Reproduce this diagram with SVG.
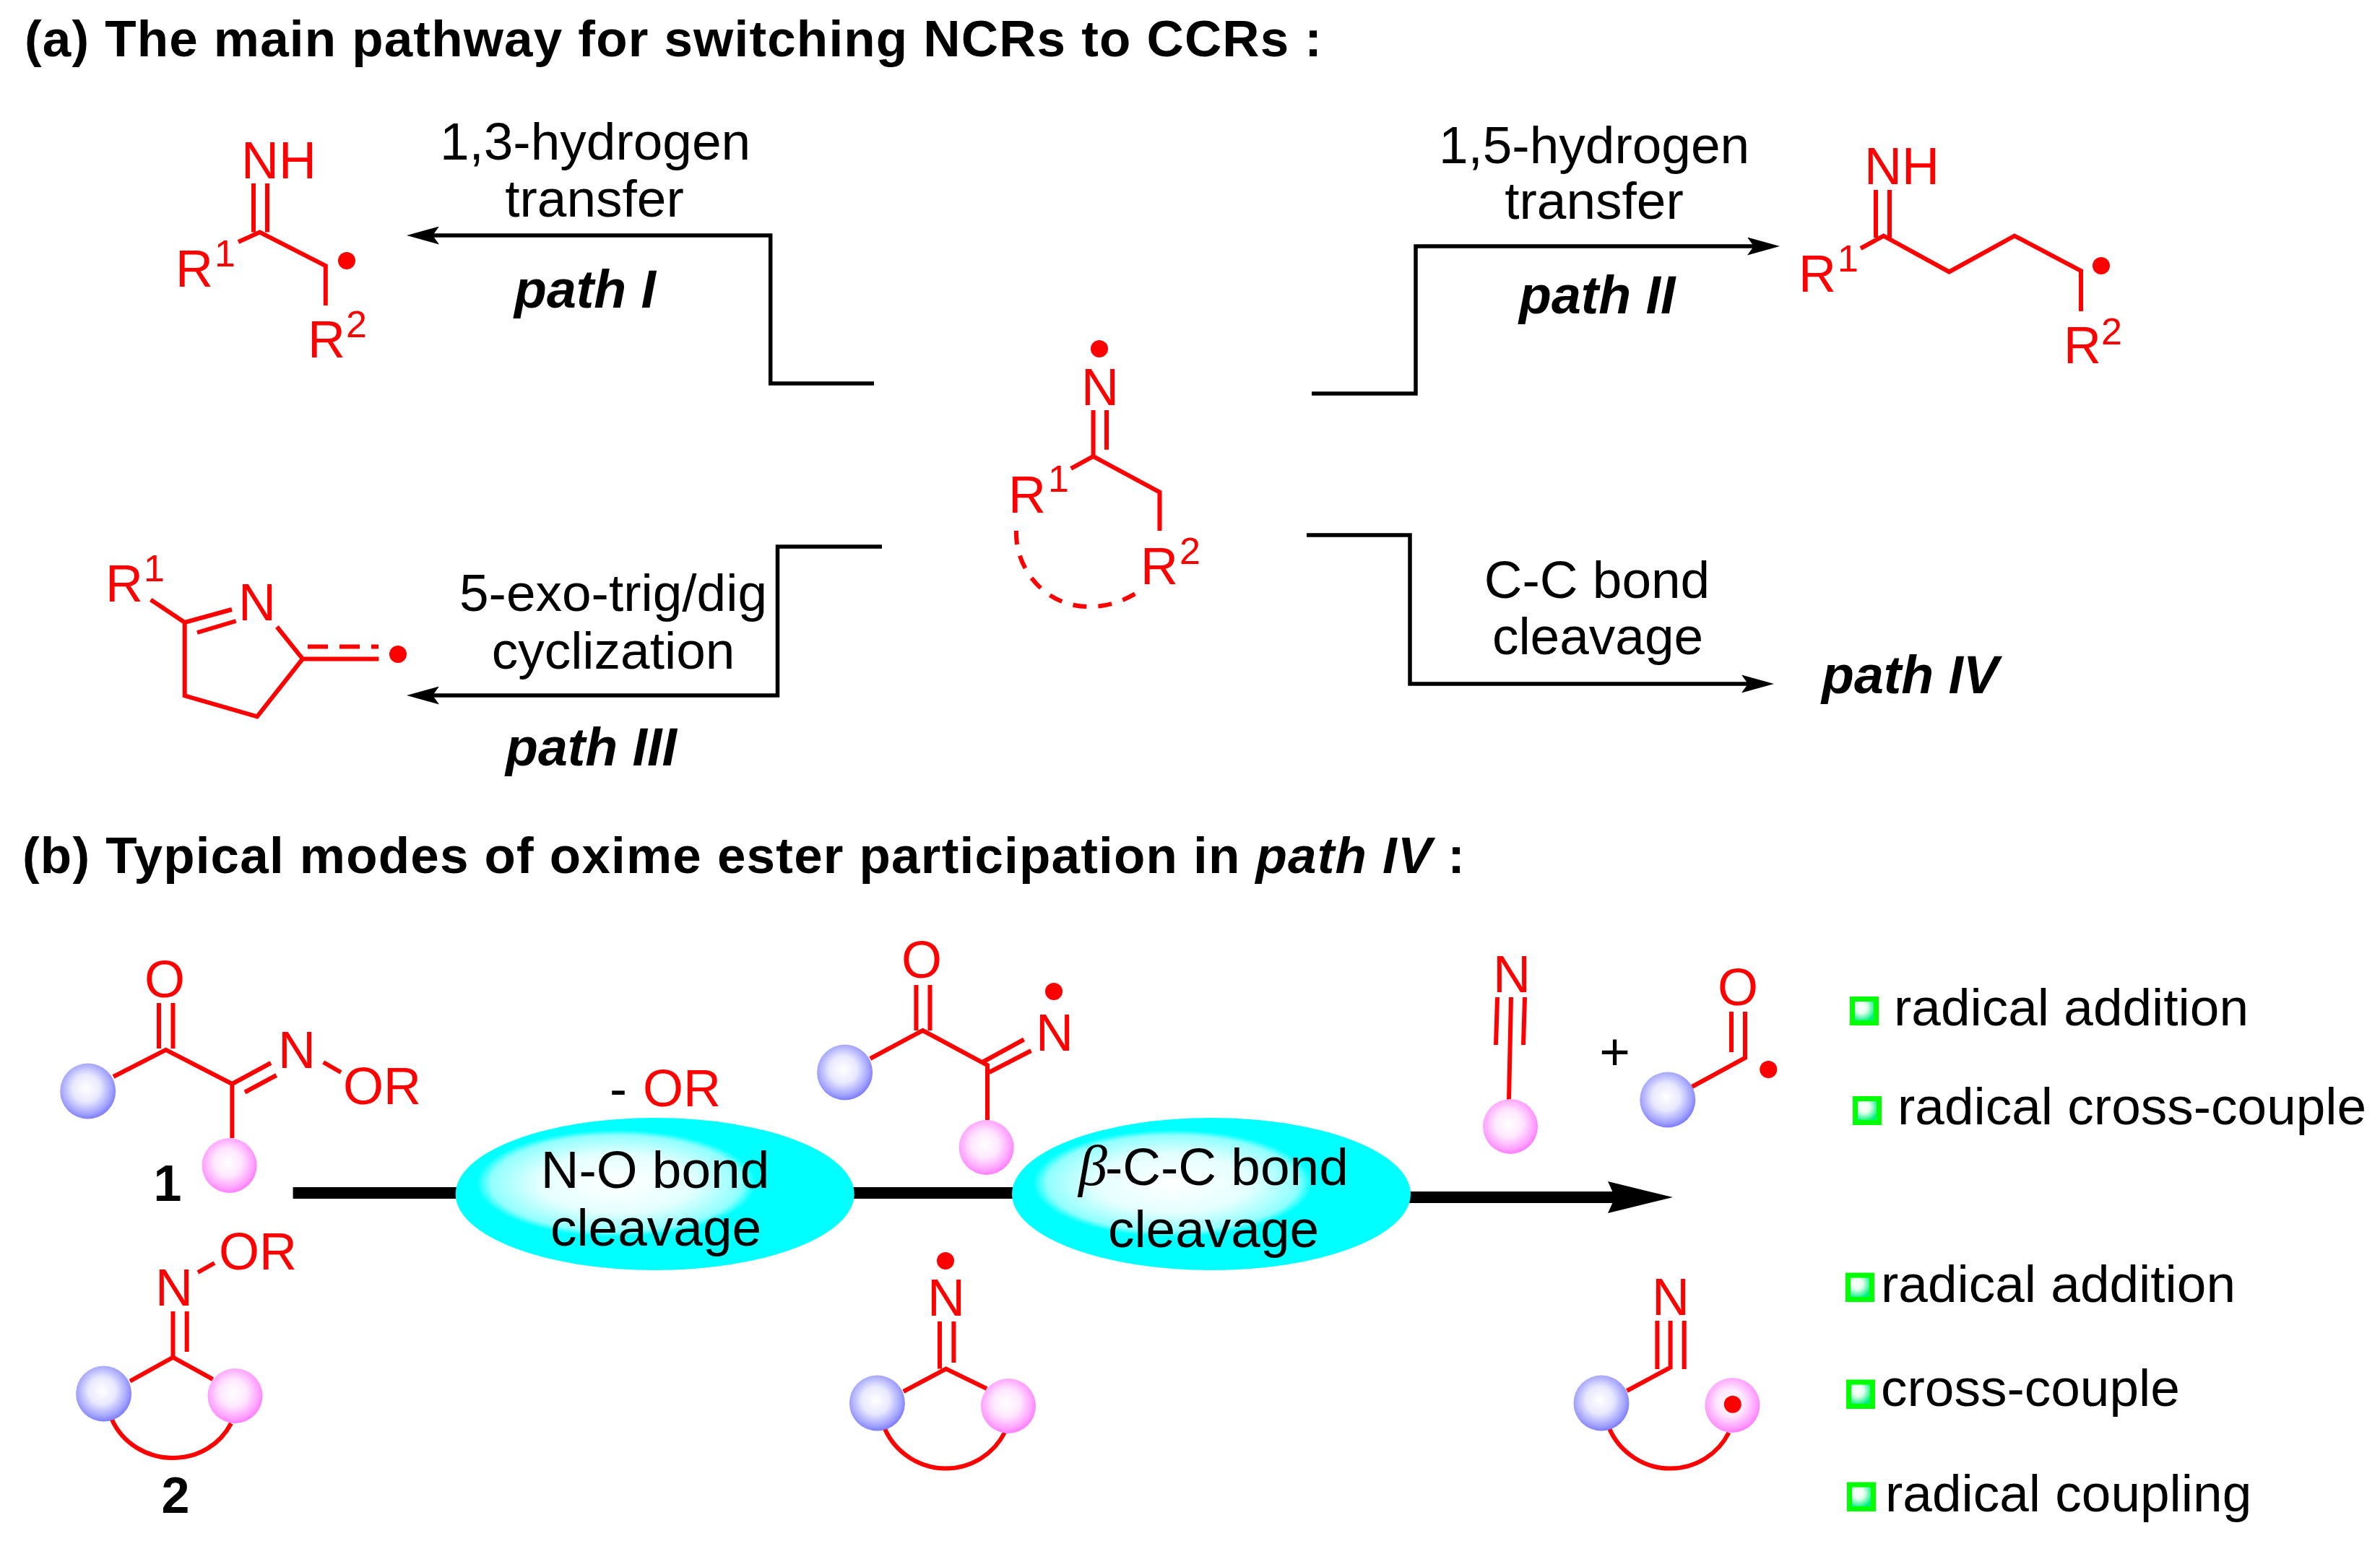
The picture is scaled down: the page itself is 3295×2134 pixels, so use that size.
<svg xmlns="http://www.w3.org/2000/svg" width="3295" height="2134" viewBox="0 0 3295 2134">
<style>
text{font-family:"Liberation Sans",Arial,sans-serif;white-space:pre}
.t{font-size:73px;fill:#000}
.p{font-size:73.5px;fill:#000;font-weight:bold;font-style:italic}
.h{font-size:71px;fill:#000;font-weight:bold}
.c{font-size:72px;fill:#f00}
.s{font-size:52px}
.n{font-size:70px;fill:#000;font-weight:bold;text-anchor:middle}
.b{fill:none;stroke:#f00;stroke-width:6;stroke-linecap:butt;stroke-linejoin:miter}
.d{fill:#f00}
.w{fill:none;stroke:#000;stroke-width:5.5;stroke-linejoin:miter}
.a{marker-end:url(#head)}
.m{fill:none;stroke:#000;stroke-width:16}
.bl{fill:url(#gb)}
.pk{fill:url(#gp)}
.e{fill:url(#ge)}
.q{fill:url(#gq);stroke:#0f0;stroke-width:7}
</style>
<defs>
<radialGradient id="gb" cx=".47" cy=".45" r=".55"><stop offset="0" stop-color="#fff"/><stop offset=".45" stop-color="#e8e8ff"/><stop offset=".85" stop-color="#a0a0ff"/><stop offset="1" stop-color="#7c7cff"/></radialGradient>
<radialGradient id="gp" cx=".47" cy=".45" r=".55"><stop offset="0" stop-color="#fff"/><stop offset=".45" stop-color="#ffe8ff"/><stop offset=".85" stop-color="#ffa0ff"/><stop offset="1" stop-color="#ff7cff"/></radialGradient>
<radialGradient id="ge" cx=".403" cy=".43" r=".35"><stop offset="0" stop-color="#fff"/><stop offset=".55" stop-color="#e4ffff"/><stop offset=".9" stop-color="#90ffff"/><stop offset="1" stop-color="#0ff"/></radialGradient>
<radialGradient id="gq" cx=".38" cy=".35" r=".6"><stop offset="0" stop-color="#fff"/><stop offset=".4" stop-color="#e8fff0"/><stop offset="1" stop-color="#00f080"/></radialGradient>
<marker id="head" markerUnits="userSpaceOnUse" markerWidth="45" markerHeight="25" viewBox="0 0 45 25" refX="9" refY="12.5" orient="auto"><path d="M0,0L45,12.5L0,25L9,12.5Z" fill="#000"/></marker>
<marker id="bighead" markerUnits="userSpaceOnUse" markerWidth="90" markerHeight="44" viewBox="0 0 90 44" refX="10" refY="22" orient="auto"><path d="M0,0L90,22L0,44L10,22Z" fill="#000"/></marker>
</defs>
<rect width="3295" height="2134" fill="#fff"/>

<g id="connectors">
<path class="w a" d="M1210,531H1066.7V326H599"/>
<path class="w a" d="M1816,545H1960V341H2428"/>
<path class="w a" d="M1221,757H1076.5V963H599"/>
<path class="w a" d="M1809,741H1952V947H2420"/>
<path class="m" d="M405.6,1652H1404"/>
<path class="m" d="M1950,1658H2236" marker-end="url(#bighead)"/>
</g>

<g id="title-a"><text class="h" x="34" y="78" textLength="1796">(a) The main pathway for switching NCRs to CCRs :</text></g>
<g id="title-b"><text class="h" x="31" y="1209" textLength="1997">(b) Typical modes of oxime ester participation in <tspan font-style="italic">path IV</tspan> :</text></g>

<g id="label-path1">
<text class="t" x="824" y="221" text-anchor="middle">1,3-hydrogen</text>
<text class="t" x="823" y="300" text-anchor="middle">transfer</text>
<text class="p" x="712" y="426">path I</text>
</g>
<g id="label-path2">
<text class="t" x="2207" y="226" text-anchor="middle">1,5-hydrogen</text>
<text class="t" x="2207" y="303" text-anchor="middle">transfer</text>
<text class="p" x="2103" y="434">path II</text>
</g>
<g id="label-path3">
<text class="t" x="849" y="846" text-anchor="middle">5-exo-trig/dig</text>
<text class="t" x="849" y="926" text-anchor="middle">cyclization</text>
<text class="p" x="700" y="1060">path III</text>
</g>
<g id="label-path4">
<text class="t" x="2211" y="828" text-anchor="middle">C-C bond</text>
<text class="t" x="2212" y="906" text-anchor="middle">cleavage</text>
<text class="p" x="2522" y="960">path IV</text>
</g>

<g id="imine-radical-center">
<circle class="d" cx="1522" cy="483" r="12"/>
<text class="c" x="1497" y="561">N</text>
<path class="b" d="M1513.6,568V632L1482.7,648.8M1513.6,632L1605.5,681.5V735M1532,568V622.7"/>
<path class="b" stroke-dasharray="19 16" d="M1407,735C1405,790 1450,842 1510,840C1540,840 1565,828 1584,814"/>
<text class="c" x="1396" y="710">R<tspan class="s" x="1451" y="681">1</tspan></text>
<text class="c" x="1579" y="809">R<tspan class="s" x="1633" y="781">2</tspan></text>
</g>

<g id="product-path1">
<text class="c" x="334" y="247">NH</text>
<path class="b" d="M351,254V321.5M370,254V321.5M330,335L359.6,321.5L450.8,368V423"/>
<circle class="d" cx="480" cy="361" r="12"/>
<text class="c" x="243" y="397">R<tspan class="s" x="297" y="369">1</tspan></text>
<text class="c" x="426" y="495">R<tspan class="s" x="479" y="467">2</tspan></text>
</g>

<g id="product-path2">
<text class="c" x="2581" y="255">NH</text>
<path class="b" d="M2597,263V329M2616,263V329M2576,344L2607.7,326.6L2698.5,376.5L2789,326.6L2881,375V431"/>
<circle class="d" cx="2909" cy="368" r="12"/>
<text class="c" x="2490" y="404">R<tspan class="s" x="2544" y="376">1</tspan></text>
<text class="c" x="2857" y="503">R<tspan class="s" x="2909" y="477">2</tspan></text>
</g>

<g id="product-path3">
<text class="c" x="146" y="833">R<tspan class="s" x="199" y="805">1</tspan></text>
<text class="c" x="330" y="859">N</text>
<path class="b" d="M208.7,830.6L255.7,862L321,844M273,876L326.6,860M383.4,868L419,912.4L356,992.4L255.7,963.3V862M419,912.4H524.4"/>
<path class="b" stroke-dasharray="28 16" d="M426,895.5H524"/>
<circle class="d" cx="551" cy="906" r="12"/>
</g>

<g id="oxime-1">
<text class="c" x="200" y="1381">O</text>
<path class="b" d="M220,1389V1452M239.5,1389V1452M157,1491L229.6,1453.8L321.4,1501L375,1472M339,1512.5L382.7,1489M321.4,1501V1576M447.7,1471L472,1485"/>
<text class="c" x="385" y="1479">N</text>
<text class="c" x="475" y="1529">OR</text>
<circle class="bl" cx="121.7" cy="1511" r="38.5"/>
<circle class="pk" cx="317.6" cy="1614" r="38"/>
<text class="n" x="232" y="1663">1</text>
</g>

<g id="oxime-2">
<text class="c" x="303" y="1758">OR</text>
<path class="b" d="M274,1762L297,1749"/>
<text class="c" x="215" y="1808">N</text>
<path class="b" d="M239.5,1816V1879.7M258.7,1816V1872M180,1912.7L239.5,1879.7L294.6,1910"/>
<path class="b" d="M154.6,1965C170,2000 205,2019 239,2019C275,2019 305,2000 320,1971"/>
<circle class="bl" cx="143.6" cy="1930" r="38.5"/>
<circle class="pk" cx="325.5" cy="1933" r="38"/>
<text class="n" x="243" y="2095">2</text>
</g>

<g id="step-NO">
<ellipse class="e" cx="906.7" cy="1653.5" rx="276" ry="105.5"/>
<text class="t" x="907" y="1645" text-anchor="middle">N-O bond</text>
<text class="t" x="908" y="1725" text-anchor="middle">cleavage</text>
<text class="c" x="844" y="1532"><tspan fill="#000">-</tspan><tspan x="890">OR</tspan></text>
</g>

<g id="step-CC">
<ellipse class="e" cx="1677" cy="1653.5" rx="276" ry="105.5"/>
<text class="t" x="1493" y="1641"><tspan font-family="'Liberation Serif',serif" font-style="italic" font-size="80px">β</tspan><tspan x="1530">-C-C bond</tspan></text>
<text class="t" x="1680" y="1727" text-anchor="middle">cleavage</text>
</g>

<g id="iminyl-1">
<text class="c" x="1248" y="1354">O</text>
<path class="b" d="M1268.4,1364V1427M1287.5,1364V1427M1204.8,1466L1277.5,1427L1367,1475V1551M1360,1471L1417.6,1439.5M1369.4,1485L1427.5,1455"/>
<text class="c" x="1434" y="1455">N</text>
<circle class="d" cx="1459" cy="1373" r="12"/>
<circle class="bl" cx="1169.6" cy="1485" r="38.5"/>
<circle class="pk" cx="1365.6" cy="1589" r="38"/>
</g>

<g id="iminyl-2">
<circle class="d" cx="1309" cy="1746" r="12"/>
<text class="c" x="1284" y="1822">N</text>
<path class="b" d="M1301,1830V1895.6M1320.4,1830V1887M1250.8,1927L1309.7,1895.6L1366,1923"/>
<path class="b" d="M1224.7,1978C1240,2013 1275,2033.6 1309,2033.6C1345,2033.6 1376,2013 1390.8,1984"/>
<circle class="bl" cx="1214.4" cy="1943" r="38.5"/>
<circle class="pk" cx="1396" cy="1947" r="38"/>
</g>

<g id="nitrile-1">
<text class="c" x="2067" y="1374">N</text>
<path class="b" d="M2073,1381L2071,1447M2092,1381L2089,1523M2111,1381L2109,1447"/>
<circle class="pk" cx="2091" cy="1560" r="38"/>
</g>
<g id="plus"><text class="t" x="2235.5" y="1481" text-anchor="middle">+</text></g>
<g id="acyl">
<text class="c" x="2378" y="1392">O</text>
<path class="b" d="M2397,1401V1457M2416,1401V1465L2342.4,1505"/>
<circle class="d" cx="2448.3" cy="1481" r="12"/>
<circle class="bl" cx="2308.8" cy="1523" r="38.5"/>
</g>

<g id="nitrile-radical">
<text class="c" x="2287" y="1821">N</text>
<path class="b" d="M2294.4,1829V1896M2312.6,1829V1896M2331.7,1829V1896M2252.4,1926L2312,1894"/>
<path class="b" d="M2228,1978C2243,2013 2278,2033.6 2312,2033.6C2348,2033.6 2379,2013 2393.4,1984"/>
<circle class="bl" cx="2217" cy="1943" r="38.5"/>
<circle class="pk" cx="2398.4" cy="1946" r="38"/>
<circle class="d" cx="2398.8" cy="1944.7" r="12"/>
</g>

<g id="list-1">
<g><rect class="q" x="2564.5" y="1383.5" width="33" height="33"/><text class="t" x="2622" y="1420">radical addition</text></g>
<g><rect class="q" x="2568.5" y="1521.5" width="33" height="33"/><text class="t" x="2627" y="1557">radical cross-couple</text></g>
</g>
<g id="list-2">
<g><rect class="q" x="2558.5" y="1766" width="33" height="33.5"/><text class="t" x="2604" y="1803">radical addition</text></g>
<g><rect class="q" x="2559.5" y="1914" width="33" height="33.5"/><text class="t" x="2604" y="1947">cross-couple</text></g>
<g><rect class="q" x="2560.5" y="2056" width="33" height="33.5"/><text class="t" x="2610" y="2093">radical coupling</text></g>
</g>
</svg>
